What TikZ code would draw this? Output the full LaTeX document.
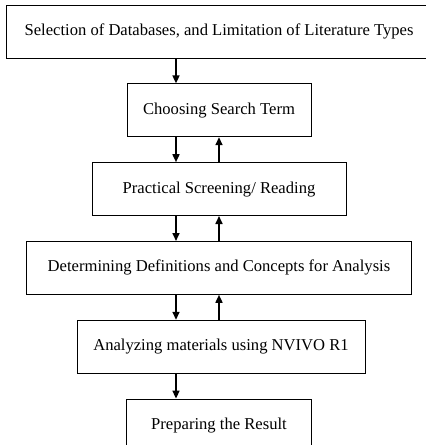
\documentclass[tikz,border=0pt]{standalone}
\usepackage{fontspec}
\setmainfont{Liberation Serif}
\usetikzlibrary{positioning,arrows.meta}
\begin{document}
\begin{tikzpicture}[x=1pt,y=1pt,node distance=25pt,
  stage/.style={draw,line width=0.8pt,minimum height=53pt,inner sep=0pt,
    font=\fontsize{16.6}{20}\selectfont},
  flow/.style={-{Triangle[length=8pt,width=7pt]},line width=1.6pt}]
 \useasboundingbox (0,0) rectangle (426,-445);
 \clip (0,0) rectangle (426,-445);
 \node[stage,minimum width=426pt] (select) at (219,-31.5)
    {Selection of Databases, and Limitation of Literature Types};
 \node[stage,minimum width=184pt,below=of select] (search) {Choosing Search Term};
 \node[stage,minimum width=254pt,below=of search] (screen) {Practical Screening/ Reading};
 \node[stage,minimum width=385pt,below=of screen] (define)
    {Determining Definitions and Concepts for Analysis};
 \node[stage,minimum width=288pt,below=of define,xshift=2pt] (nvivo)
    {Analyzing materials using NVIVO R1};
 \node[stage,minimum width=185pt,below=of nvivo,xshift=-2pt] (result) {Preparing the Result};
 % forward steps
 \draw[flow] ([xshift=-43pt]select.south) -- ([xshift=-43pt]search.north);
 \draw[flow] ([xshift=-43pt]search.south) -- ([xshift=-43pt]screen.north);
 \draw[flow] ([xshift=-43pt]screen.south) -- ([xshift=-43pt]define.north);
 \draw[flow] ([xshift=-43pt]define.south) -- ([xshift=-45pt]nvivo.north);
 \draw[flow] ([xshift=-45pt]nvivo.south) -- ([xshift=-43pt]result.north);
 % feedback
 \draw[flow] (screen.north) -- (search.south);
 \draw[flow] (define.north) -- (screen.south);
 \draw[flow] ([xshift=-2pt]nvivo.north) -- (define.south);
\end{tikzpicture}
\end{document}
